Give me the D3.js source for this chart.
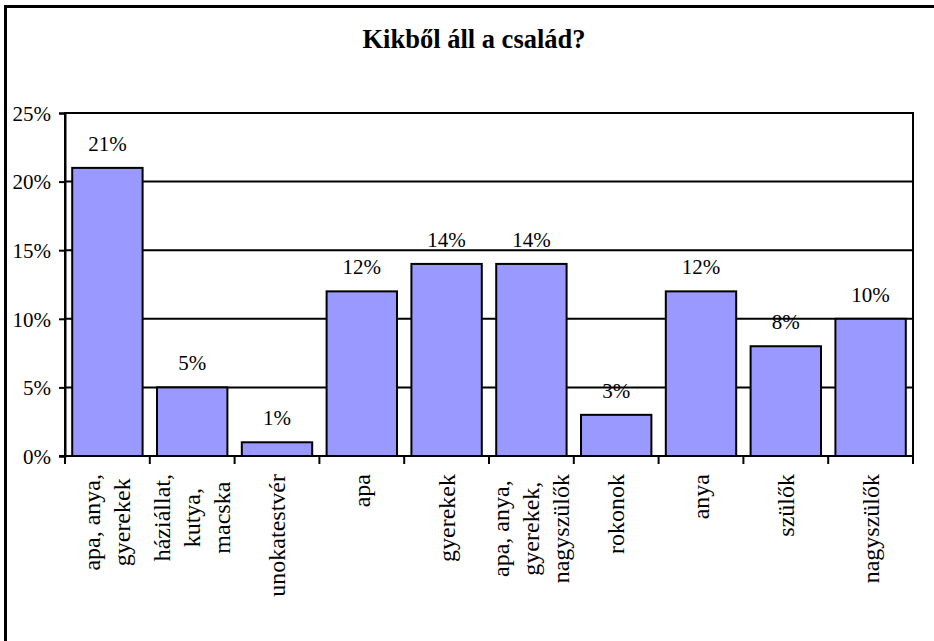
<!DOCTYPE html>
<html>
<head>
<meta charset="utf-8">
<script src="https://cdn.jsdelivr.net/npm/d3@7/dist/d3.min.js"></script>
<style>
html,body{margin:0;padding:0;background:#fff;}
svg{display:block;}
</style>
</head>
<body>
<svg id="chart" width="934" height="641"></svg>
<script>
const title = "Kikből áll a család?";
const categories = [
  ["apa, anya,", "gyerekek"],
  ["háziállat,", "kutya,", "macska"],
  ["unokatestvér"],
  ["apa"],
  ["gyerekek"],
  ["apa, anya,", "gyerekek,", "nagyszülők"],
  ["rokonok"],
  ["anya"],
  ["szülők"],
  ["nagyszülők"]
];
const values = [21, 5, 1, 12, 14, 14, 3, 12, 8, 10];
const yTicks = [0, 5, 10, 15, 20, 25];

const FONT = "'Liberation Serif', 'Times New Roman', Times, 'DejaVu Serif', serif";
const svg = d3.select("#chart").style("font-family", FONT);
const margin = {left: 65, right: 21, top: 113, bottom: 185};
const W = 934, H = 641;
const x0 = margin.left, x1 = W - margin.right;
const y0 = H - margin.bottom, y1 = margin.top;

// outer chart border (extends past right/bottom edges as in the reference)
svg.append("rect").attr("x", 5.5).attr("y", 6.5).attr("width", 960).attr("height", 680)
  .attr("fill", "none").attr("stroke", "#000").attr("stroke-width", 3);

svg.append("text").attr("x", 474).attr("y", 48).attr("text-anchor", "middle")
  .style("font-family", FONT).attr("font-size", 26.5).attr("font-weight", "bold").text(title);

const x = d3.scaleBand().domain(d3.range(categories.length)).range([x0, x1])
  .paddingInner(0.17).paddingOuter(0.085);
const y = d3.scaleLinear().domain([0, 25]).range([y0, y1]);

// gridlines
svg.append("g").selectAll("line").data(yTicks.filter(t => t > 0)).join("line")
  .attr("x1", x0).attr("x2", x1).attr("y1", d => y(d)).attr("y2", d => y(d))
  .attr("stroke", "#000").attr("stroke-width", 2);

// plot border
svg.append("rect").attr("x", x0).attr("y", y1).attr("width", x1 - x0).attr("height", y0 - y1)
  .attr("fill", "none").attr("stroke", "#000").attr("stroke-width", 2);

// bars
svg.append("g").selectAll("rect").data(values).join("rect")
  .attr("x", (d, i) => x(i)).attr("width", x.bandwidth())
  .attr("y", d => y(d)).attr("height", d => y(0) - y(d))
  .attr("fill", "#9999ff").attr("stroke", "#000").attr("stroke-width", 2);

// value labels
svg.append("g").selectAll("text").data(values).join("text")
  .style("font-family", FONT)
  .attr("x", (d, i) => x(i) + x.bandwidth() / 2).attr("y", d => y(d) - 17)
  .attr("text-anchor", "middle").attr("font-size", 21).text(d => d + "%");

// y axis
const yAxis = d3.axisLeft(y).tickValues(yTicks).tickFormat(d => d + "%").tickSize(6).tickPadding(8);
const gy = svg.append("g").attr("transform", `translate(${x0},0)`).call(yAxis)
  .attr("font-family", null).attr("font-size", null);
gy.select(".domain").attr("stroke-width", 2);
gy.selectAll(".tick line").attr("stroke-width", 2);
gy.selectAll(".tick text").style("font-family", FONT).attr("font-size", 21).attr("dy", "0.35em");

// x axis baseline and ticks at category boundaries
const bounds = d3.range(categories.length + 1).map(i => x0 + i * (x1 - x0) / categories.length);
svg.append("line").attr("x1", x0 - 6).attr("x2", x1).attr("y1", y0).attr("y2", y0)
  .attr("stroke", "#000").attr("stroke-width", 2);
svg.append("g").selectAll("line").data(bounds).join("line")
  .attr("x1", d => d).attr("x2", d => d).attr("y1", y0).attr("y2", y0 + 8)
  .attr("stroke", "#000").attr("stroke-width", 2);

// category labels, rotated
const lineGap = 30, topY = 474;
categories.forEach((lines, i) => {
  const cx = x(i) + x.bandwidth() / 2;
  const g = svg.append("g");
  const texts = lines.map(ln => g.append("text").style("font-family", FONT)
    .attr("font-size", 24).attr("text-anchor", "middle").text(ln));
  const maxW = d3.max(texts, t => t.node().getComputedTextLength());
  const n = lines.length;
  texts.forEach((t, j) => {
    const lx = cx + (j - (n - 1) / 2) * lineGap + 8;
    const ly = topY + maxW / 2;
    t.attr("transform", `translate(${lx},${ly}) rotate(-90)`);
  });
});
</script>
</body>
</html>
